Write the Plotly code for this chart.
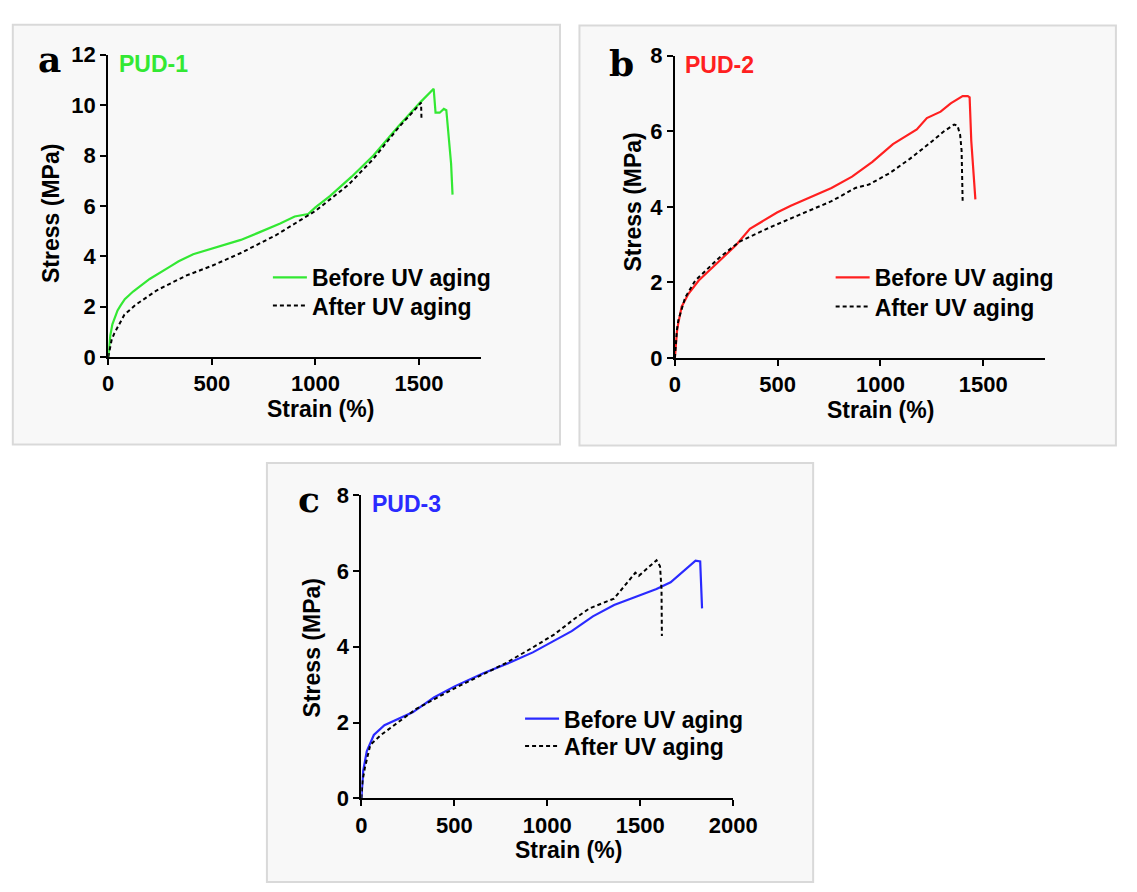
import plotly.graph_objects as go

W, H = 1137, 892

# ---------------- data ----------------
a_before_x = [0, 5, 10, 20, 30, 45, 60, 80, 120, 200, 300, 340, 410, 500, 640, 720, 830, 900, 965, 1000, 1070, 1175, 1280, 1400, 1505, 1571, 1580, 1600, 1620, 1632, 1643, 1655, 1662]
a_before_y = [0, 0.5, 0.85, 1.3, 1.55, 1.85, 2.05, 2.3, 2.6, 3.1, 3.6, 3.8, 4.08, 4.3, 4.65, 4.92, 5.3, 5.58, 5.68, 5.94, 6.39, 7.16, 8.0, 9.15, 10.1, 10.65, 9.7, 9.7, 9.85, 9.8, 8.84, 7.68, 6.45]
a_after_x = [0, 8, 17, 30, 44, 60, 78, 130, 235, 375, 500, 640, 810, 1000, 1160, 1280, 1400, 1500, 1510, 1512]
a_after_y = [0, 0.4, 0.7, 0.95, 1.16, 1.45, 1.68, 2.06, 2.65, 3.23, 3.62, 4.13, 4.84, 5.8, 6.84, 7.87, 9.1, 10.0, 10.1, 9.5]

b_before_x = [0, 5, 10, 17, 33, 66, 116, 215, 298, 365, 497, 564, 762, 862, 961, 1061, 1177, 1226, 1293, 1342, 1400, 1425, 1434, 1442, 1450, 1462]
b_before_y = [0, 0.45, 0.7, 0.93, 1.36, 1.7, 2.05, 2.56, 2.99, 3.42, 3.85, 4.03, 4.5, 4.8, 5.19, 5.66, 6.05, 6.35, 6.52, 6.74, 6.93, 6.93, 6.9, 5.75, 5.02, 4.2]
b_after_x = [0, 5, 10, 17, 50, 99, 215, 315, 447, 597, 762, 878, 944, 1044, 1143, 1243, 1309, 1359, 1375, 1388, 1395, 1400]
b_after_y = [0, 0.5, 0.75, 1.0, 1.6, 2.05, 2.65, 3.08, 3.42, 3.77, 4.15, 4.5, 4.59, 4.89, 5.27, 5.7, 6.0, 6.18, 6.15, 5.9, 5.49, 4.16]

c_before_x = [0, 4, 10, 29, 67, 124, 200, 276, 390, 504, 656, 808, 922, 1036, 1131, 1245, 1359, 1473, 1587, 1663, 1740, 1797, 1822, 1830, 1832]
c_before_y = [0, 0.4, 0.73, 1.24, 1.67, 1.93, 2.1, 2.27, 2.66, 2.96, 3.3, 3.6, 3.85, 4.15, 4.41, 4.8, 5.1, 5.31, 5.52, 5.7, 6.04, 6.27, 6.25, 5.52, 5.01]
c_after_x = [0, 6, 19, 48, 105, 200, 295, 504, 770, 922, 1036, 1150, 1226, 1359, 1473, 1492, 1549, 1587, 1606, 1614, 1616]
c_after_y = [0, 0.45, 0.81, 1.41, 1.67, 2.01, 2.36, 2.91, 3.55, 3.98, 4.32, 4.75, 5.01, 5.27, 5.95, 5.87, 6.12, 6.28, 6.12, 5.52, 4.28]

series_names = ["Before UV aging", "After UV aging"]
panel_labels = ["a", "b", "c"]
sample_names = ["PUD-1", "PUD-2", "PUD-3"]
colors = ["#33e833", "#ff2020", "#2a2aff"]
x_ranges = [[0, 1800], [0, 1800], [0, 2000]]
y_ranges = [[0, 12], [0, 8], [0, 8]]
x_ticks = [[0, 500, 1000, 1500], [0, 500, 1000, 1500], [0, 500, 1000, 1500, 2000]]
y_ticks = [[0, 2, 4, 6, 8, 10, 12], [0, 2, 4, 6, 8], [0, 2, 4, 6, 8]]

# ---------------- layout helpers (pixel -> paper) ----------------
def px(x):
    return x / W

def py(y):
    return 1 - y / H

FONT = "Liberation Sans, Arial, sans-serif"

# panel geometry in pixels: (x_left, x_right, y_top, y_bottom) of plot area
areas = [(105, 488, 44, 355), (687, 1067, 45, 356), (365, 747, 497, 809)]
frames = [(7, 13, 569, 445), (589, 14, 1140, 446), (268, 464, 829, 895)]
# legend: left x, centre y of the two rows
legend_x = [269, 847, 528]
legend_rows = [(273, 302), (273, 303), (727, 755)]
LEG_OFF = 22  # legend top -> row centre
letter_pos = [(45, 48), (632, 52), (311, 501)]
sample_pos = [(114, 54), (695, 55), (374, 506)]
xtitle_pos = [(323, 408), (898, 409), (578, 862)]
ytitle_pos = [(46, 207), (643, 196), (314, 654)]

data = [
    (a_before_x, a_before_y, a_after_x, a_after_y),
    (b_before_x, b_before_y, b_after_x, b_after_y),
    (c_before_x, c_before_y, c_after_x, c_after_y),
]

fig = go.Figure()
layout = dict(
    width=W, height=H, autosize=False, showlegend=True,
    margin=dict(l=0, r=0, t=0, b=0),
    paper_bgcolor="white", plot_bgcolor="rgba(0,0,0,0)",
    font=dict(family=FONT, color="black"),
    shapes=[], annotations=[],
)

def leg_name(k):
    return "legend" if k == 0 else "legend" + str(k + 1)

for i in range(3):
    sfx = "" if i == 0 else str(i + 1)
    xa, ya = "x" + sfx, "y" + sfx
    lg1, lg2 = leg_name(2 * i), leg_name(2 * i + 1)
    bx, by, ax_, ay_ = data[i]
    fig.add_trace(go.Scatter(x=bx, y=by, mode="lines", name=series_names[0],
                             line=dict(color=colors[i], width=2.2), showlegend=True,
                             xaxis=xa, yaxis=ya, legend=lg1))
    fig.add_trace(go.Scatter(x=ax_, y=ay_, mode="lines", name=series_names[1],
                             line=dict(color="black", width=2, dash="4px,3px"),
                             showlegend=True, xaxis=xa, yaxis=ya, legend=lg2))
    xl, xr, yt, yb = areas[i]
    common = dict(showline=True, linecolor="black", linewidth=2, ticks="outside",
                  ticklen=6, tickwidth=2, tickcolor="black", showgrid=False,
                  zeroline=False, tickfont=dict(family=FONT, size=22, weight="bold"),
                  fixedrange=True)
    layout["xaxis" + sfx] = dict(common, domain=[px(xl), px(xr)], range=x_ranges[i],
                                 tickvals=x_ticks[i], anchor=ya)
    layout["yaxis" + sfx] = dict(common, domain=[py(yb), py(yt)], range=y_ranges[i],
                                 tickvals=y_ticks[i], anchor=xa)
    for lg, rowy in ((lg1, legend_rows[i][0]), (lg2, legend_rows[i][1])):
        layout[lg] = dict(x=px(legend_x[i]), y=py(rowy - LEG_OFF), xanchor="left",
                          yanchor="top", bgcolor="rgba(0,0,0,0)", borderwidth=0,
                          font=dict(family=FONT, size=23, weight="bold"),
                          itemwidth=34, visible=True)
    fx0, fy0, fx1, fy1 = frames[i]
    layout["shapes"].append(dict(type="rect", xref="paper", yref="paper",
                                 x0=px(fx0), x1=px(fx1), y0=py(fy1), y1=py(fy0),
                                 line=dict(color="#d9d9d9", width=2),
                                 fillcolor="#f8f8f8", layer="below"))
    lx_, ly_ = letter_pos[i]
    layout["annotations"].append(dict(text=panel_labels[i], x=px(lx_), y=py(ly_),
                                      xref="paper", yref="paper", showarrow=False,
                                      xanchor="center", yanchor="middle",
                                      font=dict(family="DejaVu Serif, serif", size=36,
                                                weight="bold", color="black")))
    sx, sy = sample_pos[i]
    layout["annotations"].append(dict(text=sample_names[i], x=px(sx), y=py(sy),
                                      xref="paper", yref="paper", showarrow=False,
                                      xanchor="left", yanchor="middle",
                                      font=dict(family=FONT, size=23, weight="bold",
                                                color=colors[i])))
    tx, ty = xtitle_pos[i]
    layout["annotations"].append(dict(text="Strain (%)", x=px(tx), y=py(ty),
                                      xref="paper", yref="paper", showarrow=False,
                                      xanchor="center", yanchor="middle",
                                      font=dict(family=FONT, size=23, weight="bold")))
    vx, vy = ytitle_pos[i]
    layout["annotations"].append(dict(text="Stress (MPa)", x=px(vx), y=py(vy),
                                      xref="paper", yref="paper", showarrow=False,
                                      xanchor="center", yanchor="middle", textangle=-90,
                                      font=dict(family=FONT, size=23, weight="bold")))

fig.update_layout(**layout)
fig.write_html("out.html",
               post_script="document.body.style.margin='0';document.body.style.overflow='hidden';")
